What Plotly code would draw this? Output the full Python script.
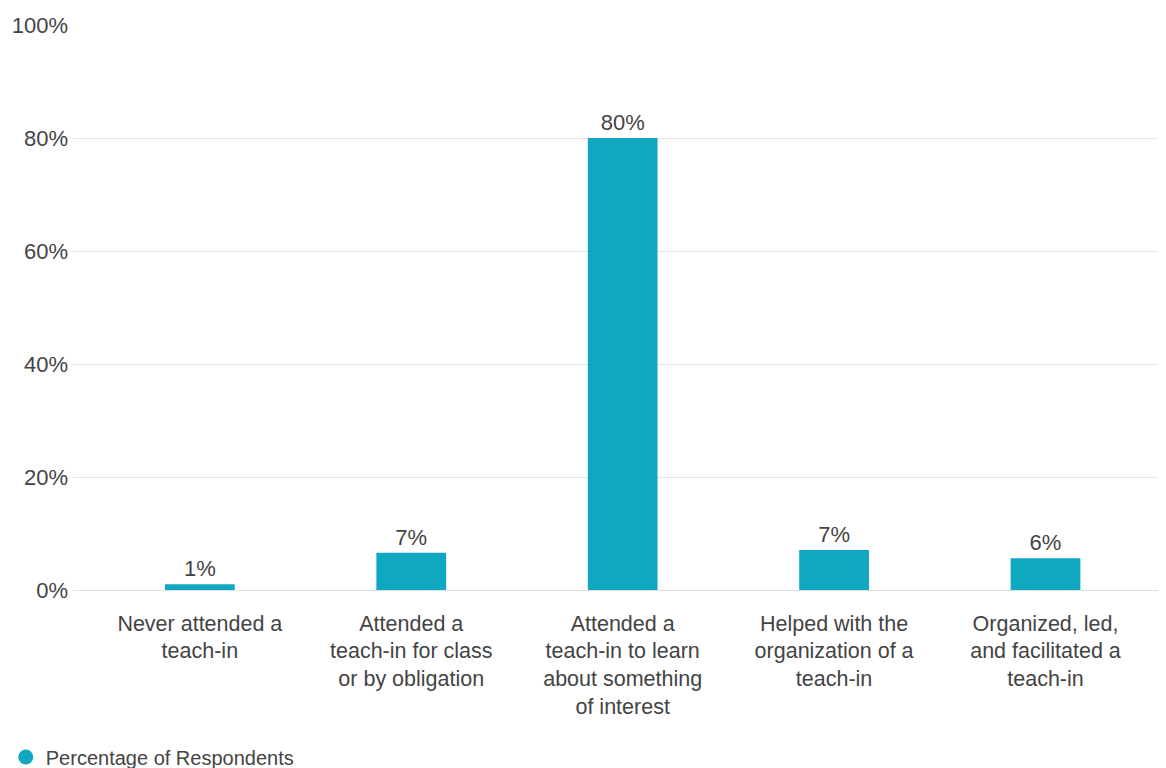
import plotly.graph_objects as go

categories = [
    "Never attended a<br>teach-in",
    "Attended a<br>teach-in for class<br>or by obligation",
    "Attended a<br>teach-in to learn<br>about something<br>of interest",
    "Helped with the<br>organization of a<br>teach-in",
    "Organized, led,<br>and facilitated a<br>teach-in",
]
values = [1.0, 6.6, 80.0, 7.1, 5.6]
value_labels = ["1%", "7%", "80%", "7%", "6%"]
series_name = "Percentage of Respondents"
y_ticks = [0, 20, 40, 60, 80, 100]

BAR_COLOR = "#10a7c1"
FONT = "Liberation Sans, Arial, sans-serif"
TEXT_COLOR = "#444444"

fig = go.Figure()
fig.add_trace(go.Bar(
    x=list(range(len(categories))),
    y=values,
    text=value_labels,
    textposition="outside",
    textfont=dict(family=FONT, size=22, color=TEXT_COLOR),
    marker=dict(color=BAR_COLOR, line=dict(width=0)),
    width=0.33,
    showlegend=False,
    cliponaxis=False,
    hoverinfo="skip",
))
fig.add_trace(go.Scatter(
    x=[None], y=[None], mode="markers",
    marker=dict(color=BAR_COLOR, size=15, symbol="circle"),
    name=series_name,
    showlegend=True,
))

# page body has an 8px margin: figure sized to fit the 1166x768 window
fig.update_layout(
    width=1158, height=760,
    margin=dict(l=65, r=0, t=17, b=178, autoexpand=False),
    plot_bgcolor="white", paper_bgcolor="white",
    font=dict(family=FONT, size=21, color=TEXT_COLOR),
    legend=dict(
        orientation="h", x=-0.0615, xanchor="left", y=-0.2956, yanchor="middle",
        font=dict(family=FONT, size=20, color=TEXT_COLOR),
        bgcolor="rgba(0,0,0,0)",
    ),
    xaxis=dict(
        tickmode="array",
        tickvals=list(range(len(categories))),
        ticktext=categories,
        range=[-0.6, 4.57],
        showgrid=False, zeroline=False, showline=False,
        ticks="", ticklabelstandoff=18,
        tickfont=dict(family=FONT, size=21.5, color=TEXT_COLOR),
        automargin=False,
    ),
    yaxis=dict(
        range=[0, 100],
        tickmode="array",
        tickvals=y_ticks,
        ticktext=[f"{v}%" for v in y_ticks],
        showgrid=True, gridcolor="#e6e6e6", gridwidth=1,
        zeroline=True, zerolinecolor="#e0e0e0", zerolinewidth=1,
        showline=False, ticks="", ticklabelstandoff=4,
        tickfont=dict(family=FONT, size=22, color=TEXT_COLOR),
        automargin=False,
    ),
)

fig.write_html("out.html")
